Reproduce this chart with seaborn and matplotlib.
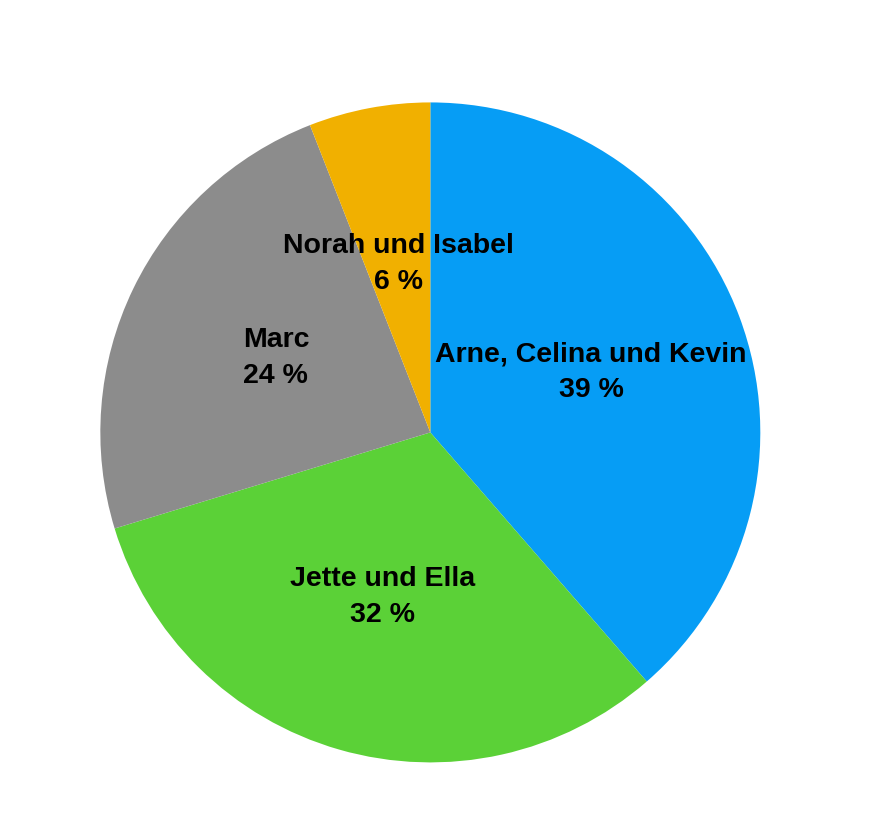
import matplotlib
matplotlib.use("Agg")
from matplotlib import pyplot as plt
import seaborn as sns

# * data
names = ["Arne, Celina und Kevin", "Jette und Ella", "Marc", "Norah und Isabel"]
shares = [39, 32, 24, 6]
colors = sns.color_palette(["#069DF5", "#5BD137", "#8C8C8C", "#F1B000"])

sns.set_theme(style="white")
plt.rcParams['font.family'] = ['Liberation Sans', 'DejaVu Sans']

fig = plt.figure(figsize=(8.8, 8.26), dpi=100)
ax = fig.add_axes([0.114, 0.077, 0.75, 0.799])

labels = [f"{n}\n{s} %" for n, s in zip(names, shares)]
wedges, texts = ax.pie(shares, labels=labels, colors=colors, startangle=90,
                       counterclock=False, labeldistance=0.52,
                       wedgeprops={'linewidth': 0},
                       textprops={'fontsize': 20.5, 'fontweight': 'bold', 'color': 'black'})
for t in texts:
    t.set_horizontalalignment('center')
    t.set_verticalalignment('center')
    t.set_multialignment('center')
    t.set_linespacing(1.5)
ax.set_xlim(-1, 1)
ax.set_ylim(-1, 1)
ax.set_aspect('equal')

fig.savefig("out.png", dpi=100)
